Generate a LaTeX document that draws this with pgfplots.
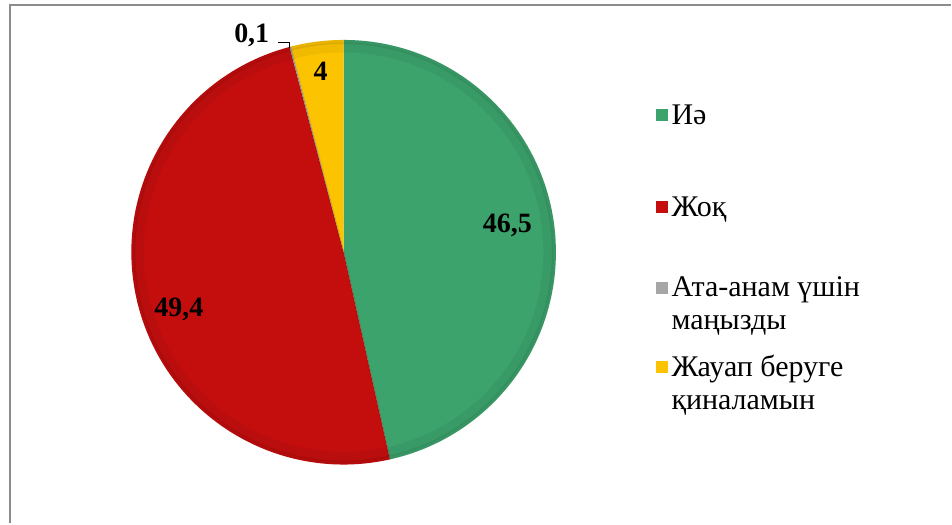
\documentclass[border=0pt]{standalone}
\usepackage{pgfplots}
\pgfplotsset{compat=1.18}
\usepackage{pgfplotstable}
\usepackage{fontspec}
\setmainfont{Liberation Serif}
\newfontfamily\tnr{Liberation Serif}

\definecolor{cYes}{RGB}{60,163,108}
\definecolor{cNo}{RGB}{196,14,14}
\definecolor{cPar}{RGB}{166,166,166}
\definecolor{cHard}{RGB}{252,196,0}
\definecolor{frame}{RGB}{140,140,140}

% shares, percent
\pgfplotstableread{
value
46.5
49.4
0.1
4
}\piedata

\begin{document}
\begin{tikzpicture}
\pgfplotstablegetelem{0}{value}\of\piedata \pgfmathsetmacro\vA{\pgfplotsretval}
\pgfplotstablegetelem{1}{value}\of\piedata \pgfmathsetmacro\vB{\pgfplotsretval}
\pgfplotstablegetelem{2}{value}\of\piedata \pgfmathsetmacro\vC{\pgfplotsretval}
\pgfplotstablegetelem{3}{value}\of\piedata \pgfmathsetmacro\vD{\pgfplotsretval}
% clockwise from the top
\pgfmathsetmacro\tA{90}
\pgfmathsetmacro\tB{\tA-3.6*\vA}
\pgfmathsetmacro\tC{\tB-3.6*\vB}
\pgfmathsetmacro\tD{\tC-3.6*\vC}
\pgfmathsetmacro\tE{\tD-3.6*\vD}
\def\R{212.5pt}
\begin{axis}[
    scale only axis,
    width=952pt, height=524pt,
    xmin=0, xmax=952, ymin=0, ymax=524,
    hide axis, clip=false,
    /pgf/number format/assume math mode=true,
    ]
    \path[fill=white] (axis cs:0,0) rectangle (axis cs:952,524);
    \draw[frame, line width=2pt] (axis cs:10,0) -- (axis cs:10,518.5) -- (axis cs:952,518.5);

    \coordinate (O) at (axis cs:344,271.5);
    \fill[cYes]  (O) -- ([shift={(\tA:\R)}]O) arc[start angle=\tA, end angle=\tB, radius=\R] -- cycle;
    \fill[cNo]   (O) -- ([shift={(\tB:\R)}]O) arc[start angle=\tB, end angle=\tC, radius=\R] -- cycle;
    \fill[cPar]  (O) -- ([shift={(\tC:\R)}]O) arc[start angle=\tC, end angle=\tD, radius=\R] -- cycle;
    \fill[cHard] (O) -- ([shift={(\tD:\R)}]O) arc[start angle=\tD, end angle=\tE, radius=\R] -- cycle;
    % soft bevel: darker rim and faint seams
    \draw[black, opacity=0.08, line width=4pt] (O) circle[radius=210.5pt];
    \draw[black, opacity=0.05, line width=10pt] (O) circle[radius=205pt];
    \draw[black, opacity=0.08, line width=1.5pt] ([shift={(\tB:\R)}]O) -- (O) -- ([shift={(\tC:\R)}]O);
    \draw[black, opacity=0.08, line width=1.5pt] ([shift={(\tD:\R)}]O) -- (O);

    % data labels
    \begin{scope}[every node/.style={font=\tnr\bfseries\fontsize{28}{32}\selectfont, anchor=base}]
    \node at (axis cs:508,291) {\pgfmathprintnumber[use comma]{\vA}};
    \node at (axis cs:179,207) {\pgfmathprintnumber[use comma]{\vB}};
    \node at (axis cs:252,481) {\pgfmathprintnumber[use comma]{\vC}};
    \node at (axis cs:321,443) {\pgfmathprintnumber[use comma]{\vD}};
    \end{scope}
    \draw[black, line width=1pt] (axis cs:278,481) -- (axis cs:290,481) -- (axis cs:290,476);

    % legend
    \begin{scope}[every node/.style={font=\tnr\fontsize{30}{34}\selectfont, anchor=base west, inner sep=0pt}]
    \fill[cYes]  (axis cs:657,403) rectangle (axis cs:669,415);
    \node at (axis cs:672,399) {Иә};
    \fill[cNo]   (axis cs:657,311) rectangle (axis cs:669,323);
    \node at (axis cs:672,307) {Жоқ};
    \fill[cPar]  (axis cs:657,230) rectangle (axis cs:669,242);
    \node at (axis cs:672,227) {Ата-анам үшін};
    \node at (axis cs:672,194) {маңызды};
    \fill[cHard] (axis cs:657,151) rectangle (axis cs:669,163);
    \node at (axis cs:672,147) {Жауап беруге};
    \node at (axis cs:672,114) {қиналамын};
    \end{scope}
\end{axis}
\end{tikzpicture}
\end{document}
